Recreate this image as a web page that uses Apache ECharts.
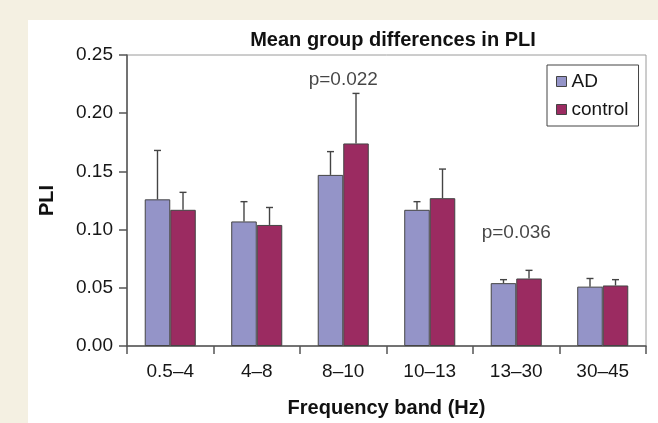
<!DOCTYPE html>
<html>
<head>
<meta charset="utf-8">
<script src="https://cdn.jsdelivr.net/npm/echarts@6/dist/echarts.min.js"></script>
<style>
  html, body { margin: 0; padding: 0; }
  #chart { width: 658px; height: 423px; }
</style>
</head>
<body>
<div id="chart"></div>
<script>
// Frequency bands and group means of PLI, with the upper error (SD) per bar
const categories = ['0.5–4', '4–8', '8–10', '10–13', '13–30', '30–45'];
const adMean = [0.126, 0.107, 0.147, 0.117, 0.054, 0.051];
const adSd = [0.042, 0.017, 0.020, 0.007, 0.003, 0.007];
const controlMean = [0.117, 0.104, 0.174, 0.127, 0.058, 0.052];
const controlSd = [0.015, 0.015, 0.043, 0.025, 0.007, 0.005];
// Significance notes: band index, height on the PLI scale, text
const noteBand = [2, 4];
const noteLevel = [0.2286, 0.0973];
const noteText = ['p=0.022', 'p=0.036'];
const yTicks = [0, 0.05, 0.10, 0.15, 0.20, 0.25];

const FONT = '"Liberation Sans", Arial, sans-serif';
const BAR_FRAC = 0.295;
const AD_COLOR = '#9494c8';
const CONTROL_COLOR = '#9b2b61';
const EDGE = '#444';
const INK = '#161616';

function errorSeries(name, means, sds, sign) {
  return {
    type: 'custom',
    name: name + ' SD',
    z: 5,
    silent: true,
    data: means.map((m, i) => [i, m, m + sds[i]]),
    renderItem: function (params, api) {
      const band = api.size([1, 0])[0];
      const off = sign * band * BAR_FRAC / 2;
      const base = api.coord([api.value(0), api.value(1)]);
      const top = api.coord([api.value(0), api.value(2)]);
      const x = base[0] + off;
      const cap = 3.5;
      const style = { stroke: EDGE, lineWidth: 1.4 };
      return {
        type: 'group',
        children: [
          { type: 'line', shape: { x1: x, y1: base[1], x2: x, y2: top[1] }, style: style },
          { type: 'line', shape: { x1: x - cap, y1: top[1], x2: x + cap, y2: top[1] }, style: style }
        ]
      };
    }
  };
}

const chart = echarts.init(document.getElementById('chart'));
chart.setOption({
  backgroundColor: '#f4f0e2',
  animation: false,
  textStyle: { fontFamily: FONT },
  graphic: [{
    type: 'rect', z: -10, silent: true,
    shape: { x: 28, y: 20, width: 630, height: 403 },
    style: { fill: '#ffffff' }
  }],
  title: {
    text: 'Mean group differences in PLI',
    left: 388, top: 25, textAlign: 'center',
    textStyle: { fontFamily: FONT, fontWeight: 'bold', fontSize: 20, color: '#111' }
  },
  legend: {
    orient: 'vertical',
    left: 547, top: 65,
    padding: [7, 10, 7, 9],
    itemGap: 9,
    itemWidth: 10, itemHeight: 10,
    itemStyle: { borderColor: EDGE, borderWidth: 1 },
    borderColor: '#444', borderWidth: 1,
    backgroundColor: '#fff',
    data: ['AD', 'control'],
    textStyle: { fontFamily: FONT, fontSize: 19, color: INK },
    icon: 'rect'
  },
  grid: {
    left: 127, top: 55, right: 12, bottom: 76,
    show: true, borderColor: '#9a9a9a', borderWidth: 1, backgroundColor: 'transparent'
  },
  xAxis: {
    type: 'category',
    data: categories,
    name: 'Frequency band (Hz)',
    nameLocation: 'middle',
    nameGap: 52,
    nameTextStyle: { fontFamily: FONT, fontWeight: 'bold', fontSize: 20, color: '#111' },
    axisLine: { lineStyle: { color: '#555', width: 1.5 } },
    axisTick: { show: true, alignWithLabel: false, length: 8, lineStyle: { color: '#555', width: 1.5 } },
    axisLabel: { fontFamily: FONT, fontSize: 19, color: INK, margin: 16 }
  },
  yAxis: {
    type: 'value',
    min: yTicks[0], max: yTicks[yTicks.length - 1], interval: 0.05,
    name: 'PLI',
    nameLocation: 'middle',
    nameGap: 70,
    nameRotate: 90,
    nameTextStyle: { fontFamily: FONT, fontWeight: 'bold', fontSize: 20, color: '#111' },
    axisLine: { show: true, lineStyle: { color: '#555', width: 1.5 } },
    axisTick: { show: true, length: 8, lineStyle: { color: '#555', width: 1.5 } },
    splitLine: { show: false },
    axisLabel: {
      fontFamily: FONT, fontSize: 19, color: INK, margin: 14,
      formatter: v => v.toFixed(2)
    }
  },
  series: [
    {
      name: 'AD', type: 'bar', data: adMean,
      barWidth: (BAR_FRAC * 100) + '%', barGap: '0%',
      itemStyle: { color: AD_COLOR, borderColor: EDGE, borderWidth: 1 }
    },
    {
      name: 'control', type: 'bar', data: controlMean,
      barWidth: (BAR_FRAC * 100) + '%', barGap: '0%',
      itemStyle: { color: CONTROL_COLOR, borderColor: EDGE, borderWidth: 1 }
    },
    errorSeries('AD', adMean, adSd, -1),
    errorSeries('control', controlMean, controlSd, 1),
    {
      type: 'scatter', name: 'notes', symbolSize: 0, silent: true,
      data: noteBand.map((b, i) => ({ value: [b, noteLevel[i]], text: noteText[i] })),
      label: {
        show: true, position: 'inside',
        formatter: p => p.data.text,
        fontFamily: FONT, fontSize: 19, color: INK
      }
    }
  ]
});
</script>
</body>
</html>
